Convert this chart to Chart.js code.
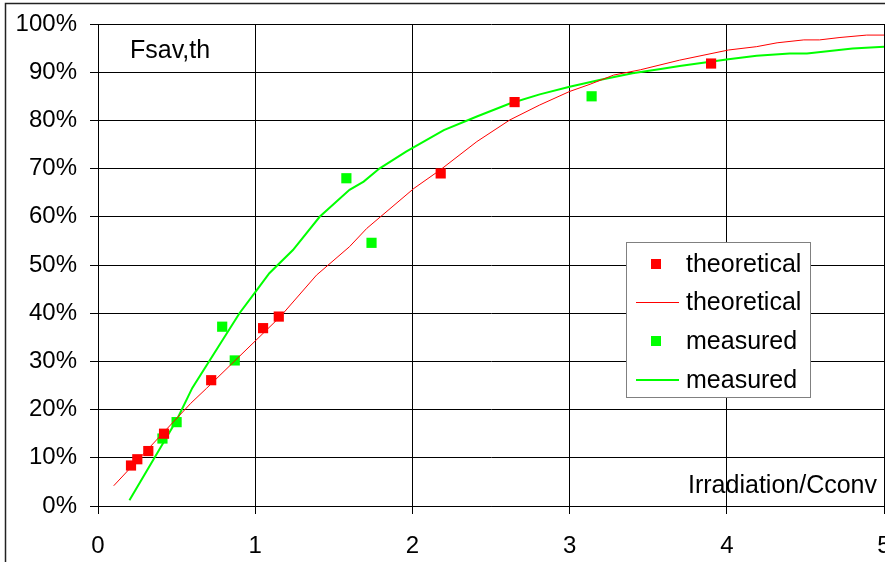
<!DOCTYPE html>
<html>
<head>
<meta charset="utf-8">
<script src="https://cdn.jsdelivr.net/npm/chart.js@4/dist/chart.umd.min.js"></script>
<style>
html,body{margin:0;padding:0;background:#fff;}
canvas{display:block;}
</style>
</head>
<body>
<canvas id="c" width="885" height="562"></canvas>
<script>
// ---- data ----
const theoX = [0.21, 0.25, 0.32, 0.42, 0.72, 1.05, 1.15, 2.18, 2.65, 3.90];
const theoY = [8.4, 9.7, 11.4, 15.0, 26.1, 36.9, 39.3, 69.0, 83.8, 91.8];
const measX = [0.41, 0.50, 0.79, 0.87, 1.58, 1.74, 3.14];
const measY = [14.0, 17.4, 37.2, 30.2, 68.0, 54.6, 85.0];
const theoLineX = [0.10, 0.59, 0.69, 1.16, 1.39, 1.60, 1.71, 2.01, 2.18, 2.41, 2.62, 2.81, 3.00, 3.13, 3.28, 3.45, 3.70, 4.01, 4.19, 4.32, 4.49, 4.59, 4.72, 4.89, 5.00];
const theoLineY = [4.2, 21.3, 24.4, 39.3, 47.9, 53.8, 57.6, 65.9, 69.8, 75.6, 80.1, 83.2, 86.0, 87.5, 89.4, 90.5, 92.5, 94.6, 95.3, 96.1, 96.7, 96.7, 97.2, 97.7, 97.7];
const measLineX = [0.20, 0.50, 0.60, 0.90, 1.01, 1.09, 1.24, 1.41, 1.60, 1.69, 1.79, 1.96, 2.20, 2.41, 2.62, 2.81, 3.00, 3.19, 3.40, 3.59, 3.70, 4.01, 4.19, 4.40, 4.51, 4.80, 5.00];
const measLineY = [1.2, 17.8, 24.5, 40.0, 44.8, 48.3, 53.1, 60.0, 65.6, 67.3, 70.0, 73.5, 78.0, 80.8, 83.5, 85.4, 87.0, 88.4, 89.8, 90.7, 91.3, 92.7, 93.4, 93.9, 93.9, 94.9, 95.3];
const seriesLabels = ['theoretical', 'theoretical', 'measured', 'measured'];
const yTickSuffix = '%';
const yAxisText = 'Fsav,th';
const xAxisText = 'Irradiation/Cconv';

const pts = (xs, ys) => xs.map((x, i) => ({x: x, y: ys[i]}));
const FONT = '"Liberation Sans", Arial, sans-serif';
const FS = 24;
const FS2 = 25;

const decor = {
  id: 'decor',
  beforeDraw(chart) {
    const ctx = chart.ctx;
    ctx.save();
    ctx.fillStyle = '#fff';
    ctx.fillRect(0, 0, chart.width, chart.height);
    ctx.strokeStyle = '#222';
    ctx.lineWidth = 1.5;
    ctx.strokeRect(5.5, 3.5, 2000, 2000);
    ctx.restore();
  },
  afterDraw(chart) {
    const ctx = chart.ctx;
    const a = chart.chartArea;
    ctx.save();
    ctx.fillStyle = '#000';
    ctx.font = FS2 + 'px ' + FONT;
    ctx.textBaseline = 'alphabetic';
    ctx.textAlign = 'left';
    ctx.fillText(yAxisText, a.left + 32, a.top + 34);
    ctx.textAlign = 'right';
    ctx.fillText(xAxisText, a.right - 7, a.bottom - 13);
    // legend
    const lx = 626.5, ly = 242.5, lw = 184, lh = 155;
    ctx.fillStyle = '#fff';
    ctx.fillRect(lx, ly, lw, lh);
    ctx.strokeStyle = '#808080';
    ctx.lineWidth = 1;
    ctx.strokeRect(lx, ly, lw, lh);
    const rows = [264, 302.5, 341, 380];
    chart.data.datasets.forEach((ds, i) => {
      const y = rows[i];
      if (ds.showLine) {
        ctx.strokeStyle = ds.borderColor;
        ctx.lineWidth = ds.borderWidth;
        ctx.beginPath();
        ctx.moveTo(636, y);
        ctx.lineTo(679, y);
        ctx.stroke();
      } else {
        ctx.fillStyle = ds.backgroundColor;
        ctx.fillRect(651, y - 5, 10, 10);
      }
      ctx.fillStyle = '#000';
      ctx.textAlign = 'left';
      ctx.textBaseline = 'middle';
      ctx.fillText(ds.label, 686, y + 1);
    });
    ctx.restore();
  }
};

new Chart(document.getElementById('c'), {
  type: 'scatter',
  data: {
    datasets: [
      {label: seriesLabels[0], data: pts(theoX, theoY), showLine: false, pointStyle: 'rect',
       pointRadius: 7.2, pointHoverRadius: 7.2, backgroundColor: '#ff0000', borderColor: '#ff0000', borderWidth: 0},
      {label: seriesLabels[1], data: pts(theoLineX, theoLineY), showLine: true, pointRadius: 0,
       borderColor: '#ff0000', backgroundColor: '#ff0000', borderWidth: 1, tension: 0},
      {label: seriesLabels[2], data: pts(measX, measY), showLine: false, pointStyle: 'rect',
       pointRadius: 7.2, pointHoverRadius: 7.2, backgroundColor: '#00ff00', borderColor: '#00ff00', borderWidth: 0},
      {label: seriesLabels[3], data: pts(measLineX, measLineY), showLine: true, pointRadius: 0,
       borderColor: '#00ff00', backgroundColor: '#00ff00', borderWidth: 2, tension: 0}
    ]
  },
  options: {
    responsive: false,
    animation: false,
    events: [],
    layout: {autoPadding: false, padding: {left: 0, right: 1, top: 24, bottom: 0}},
    plugins: {legend: {display: false}, tooltip: {enabled: false}, title: {display: false}},
    scales: {
      x: {
        type: 'linear', min: 0, max: 5,
        ticks: {stepSize: 1, color: '#000', font: {family: FONT, size: FS}, padding: 18, maxRotation: 0},
        grid: {color: '#000', lineWidth: 1, tickLength: 8, drawTicks: true},
        border: {display: true, color: '#000', width: 1},
        afterFit(s) { s.height = 56; s.paddingLeft = 0; s.paddingRight = 0; }
      },
      y: {
        type: 'linear', min: 0, max: 100,
        ticks: {stepSize: 10, color: '#000', font: {family: FONT, size: FS}, padding: 13,
                callback: v => v + yTickSuffix},
        grid: {color: '#000', lineWidth: 1, tickLength: 8, drawTicks: true},
        border: {display: true, color: '#000', width: 1},
        afterFit(s) { s.width = 98; s.paddingTop = 0; s.paddingBottom = 0; }
      }
    }
  },
  plugins: [decor]
});
</script>
</body>
</html>
